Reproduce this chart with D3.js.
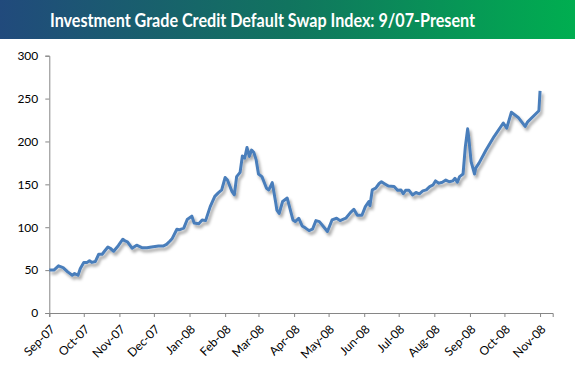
<!DOCTYPE html>
<html>
<head>
<meta charset="utf-8">
<script src="https://cdn.jsdelivr.net/npm/d3@7"></script>
<style>
  body { margin: 0; background: #fff; }
  svg { display: block; }
</style>
</head>
<body>
<svg id="chart"></svg>
<script>
// data
const dates = [
  "2007-09-01","2007-09-05","2007-09-09","2007-09-13","2007-09-17","2007-09-21","2007-09-23","2007-09-26","2007-09-28",
  "2007-10-01","2007-10-04","2007-10-06","2007-10-08","2007-10-11","2007-10-14","2007-10-17","2007-10-19","2007-10-22","2007-10-24","2007-10-27","2007-10-31",
  "2007-11-04","2007-11-06","2007-11-08","2007-11-12","2007-11-16","2007-11-21","2007-11-25","2007-11-29",
  "2007-12-05","2007-12-09","2007-12-12","2007-12-15","2007-12-17","2007-12-21","2007-12-23","2007-12-27","2007-12-30",
  "2008-01-03","2008-01-05","2008-01-09","2008-01-12","2008-01-15","2008-01-19","2008-01-23","2008-01-26","2008-01-29",
  "2008-02-01","2008-02-03","2008-02-07","2008-02-09","2008-02-11","2008-02-14","2008-02-16","2008-02-18","2008-02-20","2008-02-22","2008-02-24","2008-02-26","2008-02-28",
  "2008-03-01","2008-03-04","2008-03-08","2008-03-10","2008-03-13","2008-03-16","2008-03-17","2008-03-19","2008-03-22","2008-03-26","2008-03-31",
  "2008-04-02","2008-04-05","2008-04-08","2008-04-11","2008-04-14","2008-04-17","2008-04-20","2008-04-23","2008-04-27","2008-04-30",
  "2008-05-04","2008-05-08","2008-05-11","2008-05-16","2008-05-20","2008-05-23","2008-05-26","2008-05-30",
  "2008-06-02","2008-06-05","2008-06-06","2008-06-08","2008-06-11","2008-06-14","2008-06-16","2008-06-19","2008-06-22","2008-06-27","2008-06-30",
  "2008-07-03","2008-07-05","2008-07-07","2008-07-10","2008-07-13","2008-07-16","2008-07-19","2008-07-22","2008-07-25","2008-07-28","2008-07-31",
  "2008-08-02","2008-08-05","2008-08-08","2008-08-11","2008-08-14","2008-08-17","2008-08-19","2008-08-21","2008-08-23","2008-08-26","2008-08-28","2008-08-30","2008-08-31",
  "2008-09-02","2008-09-05","2008-09-06","2008-09-09","2008-09-15","2008-09-22","2008-09-30",
  "2008-10-03","2008-10-07","2008-10-13","2008-10-19","2008-10-21","2008-10-31","2008-11-01"
];
const values = [
  50,50,55,53,48,44,46,44,52,
  59,59,61,59,60,68.5,68.5,72,77,75.5,72,78.5,
  86,84,83,75.5,79,76,76,77,
  78,78,80,84,87,97.6,97,99,109,
  113,105,104,108.5,107.7,124,136,140,143.5,
  158,155,141.5,137.7,159,164,183,180.5,193,182.5,190,187,178.5,
  162,159,145.5,143.5,152,128.7,120,116,130,134,108.5,
  106.5,110.5,101.5,99,96,97.7,107.7,106.5,100,95,
  108.5,110.5,107.7,110.5,117,121,114,114,
  124,130,125,143.5,145.5,151,153,150.5,148,147.5,143,
  143.5,139,143,143,137.7,140.5,139,142.4,143.5,147.4,149.4,
  154,151.4,152.5,155,153,154,157,152.5,159,162,194,214.7,204,
  176.6,162,169,175,190,205.7,221.5,
  215.5,234,228,217.5,222.5,235.8,259
];
const yTicks = [0, 50, 100, 150, 200, 250, 300];
const titleText = "Investment Grade Credit Default Swap Index: 9/07-Present";
const xStart = "2007-09-01";
const xEnd = "2008-11-12";

const W = 575, H = 370;
const plotLeft = 49.3, plotRight = 552.7, plotTop = 55.7, plotBottom = 313;

const parse = d3.utcParse("%Y-%m-%d");
const series = dates.map((d, i) => ({ date: parse(d), value: values[i] }));

const svg = d3.select("#chart").attr("width", W).attr("height", H);
const defs = svg.append("defs");

let grad = defs.append("linearGradient")
    .attr("id", "banner")
    .attr("x1", "0%").attr("x2", "100%")
    .attr("y1", "0%").attr("y2", "0%");
grad.append("stop").attr("offset", "0%").attr("stop-color", "#214a7c");
grad.append("stop").attr("offset", "50%").attr("stop-color", "#11745f");
grad.append("stop").attr("offset", "100%").attr("stop-color", "#00ae50");

let shadow = defs.append("filter")
    .attr("id", "shadow")
    .attr("x", "-10%").attr("y", "-10%")
    .attr("width", "120%").attr("height", "130%");
shadow.append("feDropShadow")
    .attr("dx", 2).attr("dy", 3)
    .attr("stdDeviation", 1.4)
    .attr("flood-color", "#000")
    .attr("flood-opacity", 0.35);

// title banner
svg.append("rect")
    .attr("x", 0).attr("y", 0)
    .attr("width", W).attr("height", 39)
    .attr("fill", "url(#banner)");

svg.append("text")
    .attr("x", 262.5).attr("y", 26.5)
    .attr("text-anchor", "middle")
    .attr("font-family", "Lato, 'Open Sans', sans-serif")
    .attr("font-weight", "bold")
    .attr("font-size", "18px")
    .attr("fill", "#fff")
    .attr("textLength", 425)
    .attr("lengthAdjust", "spacingAndGlyphs")
    .text(titleText);

const x = d3.scaleUtc()
    .domain([parse(xStart), parse(xEnd)])
    .range([plotLeft, plotRight]);

const y = d3.scaleLinear()
    .domain([0, 300])
    .range([plotBottom, plotTop]);

// y axis
let yAxis = svg.append("g")
    .attr("transform", `translate(${plotLeft},0)`)
    .call(d3.axisLeft(y).tickValues(yTicks).tickSize(4).tickPadding(7));
yAxis.select(".domain").attr("stroke", "#868686");
yAxis.selectAll(".tick line").attr("stroke", "#868686");
yAxis.selectAll("text")
    .attr("font-family", "Lato, sans-serif")
    .attr("font-size", "12px")
    .attr("fill", "#000");

// x axis
let xAxis = svg.append("g")
    .attr("transform", `translate(0,${plotBottom})`)
    .call(d3.axisBottom(x)
        .ticks(d3.utcMonth.every(1))
        .tickFormat(d3.utcFormat("%b-%y"))
        .tickSizeOuter(0)
        .tickSize(4));
xAxis.select(".domain").attr("stroke", "#868686");
xAxis.selectAll(".tick line").attr("stroke", "#868686");
xAxis.selectAll("text")
    .attr("font-family", "Lato, sans-serif")
    .attr("font-size", "12px")
    .attr("fill", "#000")
    .attr("text-anchor", "end")
    .attr("dy", "0.35em")
    .attr("transform", "translate(3,14) rotate(-45)")
    .attr("y", 0)
    .attr("x", 0);

// the series
const lineFun = d3.line()
    .x(d => x(d.date))
    .y(d => y(d.value));

svg.append("path")
    .attr("d", lineFun(series))
    .attr("fill", "none")
    .attr("stroke", "#4a7ebb")
    .attr("stroke-width", 3)
    .attr("stroke-linejoin", "round")
    .attr("filter", "url(#shadow)");
</script>
</body>
</html>
